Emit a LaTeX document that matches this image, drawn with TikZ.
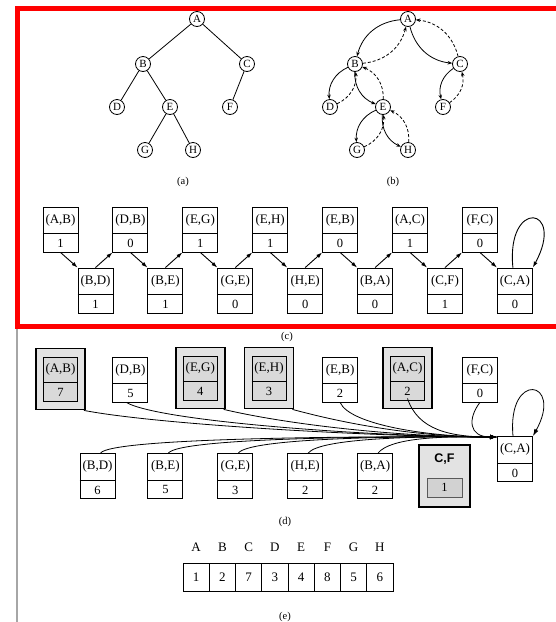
\documentclass[tikz,border=0pt]{standalone}
\usepackage{fontspec}
\setmainfont{Liberation Serif}
\setsansfont{Liberation Sans}
\usetikzlibrary{arrows.meta,calc}
\newcommand{\pbox}[5]{%
  \node[pb] (#1) at (#2,#3) {};
  \draw[pbl] ([yshift=-27pt]#1.north west) -- ([yshift=-27pt]#1.north east);
  \node[pt] (#1t) at ([yshift=-13.5pt]#1.north) {#4};
  \node[pv] (#1v) at ([yshift=9pt]#1.south) {#5};
}
\newcommand{\hlpbox}[5]{%
  \node[hlout] (#1o) at (#2,#3) {};
  \node[pb,fill=gray!30,minimum width=34pt,minimum height=44pt] (#1) at (#2,#3) {};
  \draw[pbl] ([yshift=-26pt]#1.north west) -- ([yshift=-26pt]#1.north east);
  \node[pt] (#1t) at ([yshift=-13pt]#1.north) {#4};
  \node[pv] (#1v) at ([yshift=9pt]#1.south) {#5};
}
\begin{document}
\begin{tikzpicture}[x=1pt,y=1pt,
  tn/.style={circle,draw,line width=0.8pt,minimum size=15pt,inner sep=0pt,font=\fontsize{11}{11}\selectfont},
  te/.style={line width=0.8pt},
  eu/.style={line width=0.8pt,-{Stealth[length=4.5pt,width=3.5pt]}},
  capt/.style={font=\fontsize{10.5}{10.5}\selectfont,inner sep=0pt},
  pb/.style={draw,line width=0.9pt,minimum width=35pt,minimum height=45pt,inner sep=0pt},
  pbl/.style={line width=0.7pt},
  pt/.style={font=\fontsize{13}{13}\selectfont,inner sep=0pt},
  pv/.style={font=\fontsize{12.5}{12.5}\selectfont,inner sep=0pt},
  hlout/.style={draw,line width=1.8pt,fill=gray!22,minimum width=49pt,minimum height=61pt,inner sep=0pt},
  la/.style={line width=0.9pt,-{Latex[length=6pt,width=4pt]}},
  da/.style={line width=0.8pt,-{Latex[length=7pt,width=4.5pt]}},
  arr/.style={draw,line width=0.8pt,minimum width=26.25pt,minimum height=28pt,inner sep=0pt,font=\fontsize{13}{13}\selectfont},
  alet/.style={font=\fontsize{13}{13}\selectfont,inner sep=0pt}
]
\useasboundingbox (0,0) rectangle (556,-622);

% red frame and grey rule
\draw[red,line width=5pt] (560,-8.5) -- (17.5,-8.5) -- (17.5,-326.5) -- (560,-326.5);
\draw[gray!70,line width=2pt] (16.5,-329) -- (16.5,-622);

% ---------- (a) ----------
\node[tn] (aA) at (197,-19) {A};
\node[tn] (aB) at (143,-64) {B};
\node[tn] (aC) at (247,-64) {C};
\node[tn] (aD) at (117,-107) {D};
\node[tn] (aE) at (170,-107) {E};
\node[tn] (aF) at (230,-107) {F};
\node[tn] (aG) at (145,-150) {G};
\node[tn] (aH) at (193,-150) {H};
\draw[te] (aA) -- (aB);
\draw[te] (aA) -- (aC);
\draw[te] (aB) -- (aD);
\draw[te] (aB) -- (aE);
\draw[te] (aC) -- (aF);
\draw[te] (aE) -- (aG);
\draw[te] (aE) -- (aH);
\node[capt] (capa) at (183,-182) {(a)};

% ---------- (b) ----------
\node[tn] (bA) at (408,-19) {A};
\node[tn] (bB) at (355,-64) {B};
\node[tn] (bC) at (460,-64) {C};
\node[tn] (bD) at (330,-107) {D};
\node[tn] (bE) at (383,-107) {E};
\node[tn] (bF) at (443,-107) {F};
\node[tn] (bG) at (357,-150) {G};
\node[tn] (bH) at (408,-150) {H};
\foreach \p/\c in {A/B,A/C,B/D,B/E,C/F,E/G,E/H}{
  \draw[eu] (b\p) to[bend right=35] (b\c);
  \draw[eu,dashed,dash pattern=on 3pt off 2pt] (b\c) to[bend right=35] (b\p);
}
\node[capt] (capb) at (393,-182) {(b)};

% ---------- (c) ----------
\pbox{cAB}{60.5}{-229.5}{(A,B)}{1}
\pbox{cDB}{130.4}{-229.5}{(D,B)}{0}
\pbox{cEG}{200.3}{-229.5}{(E,G)}{1}
\pbox{cEH}{270.2}{-229.5}{(E,H)}{1}
\pbox{cEB}{340.1}{-229.5}{(E,B)}{0}
\pbox{cAC}{410.0}{-229.5}{(A,C)}{1}
\pbox{cFC}{479.9}{-229.5}{(F,C)}{0}
\pbox{cBD}{95.5}{-290.5}{(B,D)}{1}
\pbox{cBE}{165.4}{-290.5}{(B,E)}{1}
\pbox{cGE}{235.3}{-290.5}{(G,E)}{0}
\pbox{cHE}{305.2}{-290.5}{(H,E)}{0}
\pbox{cBA}{375.1}{-290.5}{(B,A)}{0}
\pbox{cCF}{445.0}{-290.5}{(C,F)}{1}
\pbox{cCA}{514.9}{-290.5}{(C,A)}{0}
\draw[la] (cAB.south) -- (cBD.north west);
\draw[la] (cBD.north) -- (cDB.south west);
\draw[la] (cDB.south) -- (cBE.north west);
\draw[la] (cBE.north) -- (cEG.south west);
\draw[la] (cEG.south) -- (cGE.north west);
\draw[la] (cGE.north) -- (cEH.south west);
\draw[la] (cEH.south) -- (cHE.north west);
\draw[la] (cHE.north) -- (cEB.south west);
\draw[la] (cEB.south) -- (cBA.north west);
\draw[la] (cBA.north) -- (cAC.south west);
\draw[la] (cAC.south) -- (cCF.north west);
\draw[la] (cCF.north) -- (cFC.south west);
\draw[la] (cFC.south) -- (cCA.north west);
\draw[la] ([xshift=-2pt]cCA.north) .. controls (506,-198) and (566,-206) .. (cCA.north east);
\node[capt] (capc) at (287,-337) {(c)};

% ---------- (d) ----------
\hlpbox{dAB}{60.5}{-379}{(A,B)}{7}
\pbox{dDB}{130.4}{-379.5}{(D,B)}{5}
\hlpbox{dEG}{200.3}{-378}{(E,G)}{4}
\hlpbox{dEH}{269}{-378}{(E,H)}{3}
\pbox{dEB}{340.1}{-379.5}{(E,B)}{2}
\hlpbox{dAC}{407.5}{-378}{(A,C)}{2}
\pbox{dFC}{479.9}{-379.5}{(F,C)}{0}
\pbox{dBD}{97.5}{-476}{(B,D)}{6}
\pbox{dBE}{165.4}{-476}{(B,E)}{5}
\pbox{dGE}{235.3}{-476}{(G,E)}{3}
\pbox{dHE}{305.2}{-476}{(H,E)}{2}
\pbox{dBA}{375.1}{-476}{(B,A)}{2}
\pbox{dCA}{515}{-459}{(C,A)}{0}
% highlighted C,F
\node[draw,line width=1.8pt,fill=gray!22,minimum width=51pt,minimum height=62pt,inner sep=0pt] (dCFo) at (444.5,-476) {};
\node[font=\sffamily\bfseries\fontsize{12.5}{12.5}\selectfont,inner sep=0pt] (dCFt) at (444.5,-459) {C,F};
\node[draw=gray!70!black,line width=0.7pt,fill=gray!35,minimum width=35pt,minimum height=19pt,inner sep=0pt,font=\fontsize{12.5}{12.5}\selectfont] (dCFv) at (444.5,-487.5) {1};
\coordinate (cin) at (497,-437);
\draw[da] ([xshift=-2pt]dABo.south east) .. controls (160,-425) and (380,-437) .. (cin);
\draw[da] ([xshift=-4pt]dDB.south) .. controls (160,-422) and (380,-437) .. (cin);
\draw[da] ([xshift=-2pt]dEGo.south east) .. controls (290,-425) and (400,-437) .. (cin);
\draw[da] ([xshift=-2pt]dEHo.south east) .. controls (350,-425) and (420,-437) .. (cin);
\draw[da] (dEB.south) .. controls (350,-425) and (430,-437) .. (cin);
\draw[da] ([yshift=2pt]dAC.south) .. controls (418,-430) and (450,-437) .. (cin);
\draw[da] (dFC.south) .. controls (468,-418) and (468,-437) .. (cin);
\draw[da] ([xshift=3pt]dBD.north) .. controls (112,-438) and (350,-436) .. (cin);
\draw[da] ([xshift=3pt]dBE.north) .. controls (180,-438) and (380,-436) .. (cin);
\draw[da] ([xshift=3pt]dGE.north) .. controls (250,-438) and (400,-436) .. (cin);
\draw[da] ([xshift=3pt]dHE.north) .. controls (320,-438) and (420,-436) .. (cin);
\draw[da] ([xshift=3pt]dBA.north) .. controls (390,-438) and (440,-436) .. (cin);
\draw[da] ([xshift=-2pt]dCA.north) .. controls (507,-370) and (564,-380) .. (dCA.north east);
\node[capt] (capd) at (285,-522) {(d)};

% ---------- (e) ----------
\foreach \i/\L/\v in {1/A/1,2/B/2,3/C/7,4/D/3,5/E/4,6/F/8,7/G/5,8/H/6}{
  \node[arr] (e\i) at ({183+26.25*(\i-0.5)},-577) {\v};
  \node[alet] (l\i) at ({183+26.25*(\i-0.5)},-547) {\L};
}
\node[capt] (cape) at (285,-617) {(e)};
\end{tikzpicture}
\end{document}
